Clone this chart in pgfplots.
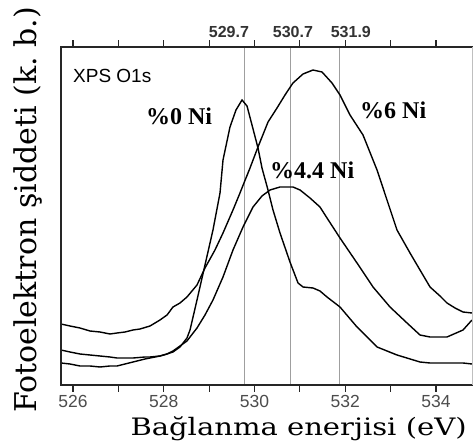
\documentclass[border=0pt]{standalone}
\usepackage{fontspec}
\usepackage{graphicx}
\usepackage{pgfplots}
\pgfplotsset{compat=1.18}
\newfontfamily\lsans{Liberation Sans}
\newfontfamily\lserif{Liberation Serif}
\newfontfamily\dserif{DejaVu Serif}
\begin{document}
\begin{tikzpicture}
\begin{axis}[
  scale only axis, width=411pt, height=338pt,
  xmin=525.736, xmax=534.793, ymin=0, ymax=338,
  clip=false,
  axis line style={draw=none},
  ytick=\empty,
  xtick={526,528,530,532,534},
  minor xtick={527,529,531,533},
  tick align=outside,
  major tick length=7pt, minor tick length=7pt,
  major tick style={line width=1.2pt, black!85},
  minor tick style={line width=1.2pt, black!85},
  xticklabel style={font=\lsans\fontsize{17.5}{17.5}\selectfont, text=black!70},
  /pgf/number format/assume math mode=true,
  /pgf/number format/1000 sep={},
  every axis x label/.style={at={(axis description cs:0.578,-0.148)}, anchor=base},
  every axis y label/.style={at={(axis description cs:-0.0584,0.518)}, rotate=90, anchor=base},
  xlabel={\scalebox{1.21}[1]{\dserif\fontsize{24}{24}\selectfont Bağlanma enerjisi (eV)}},
  ylabel={\dserif\fontsize{30}{30}\selectfont Fotoelektron şiddeti (k.\ b.)},
]
% reference lines
\addplot[gray!75, line width=1pt] coordinates {(529.77,0) (529.77,338)};
\addplot[gray!75, line width=1pt] coordinates {(530.80,0) (530.80,338)};
\addplot[gray!75, line width=1pt] coordinates {(531.88,0) (531.88,338)};
% %0 Ni
\addplot[black, line width=1.4pt] coordinates {
(525.736,22) (525.934,21) (526.154,19) (526.375,19) (526.595,18) (526.815,19) (526.970,19)
(527.146,21) (527.322,23) (527.587,26) (527.697,27) (527.917,29) (528.072,31) (528.204,33)
(528.358,38) (528.512,47) (528.579,55) (528.733,85) (528.909,120) (529.085,155) (529.240,192)
(529.306,225) (529.460,258) (529.592,275) (529.725,285) (529.835,279) (529.945,260)
(530.077,237) (530.165,217) (530.298,195) (530.408,175) (530.562,152) (530.782,123)
(530.959,102) (531.069,98) (531.289,97) (531.443,94) (531.598,88) (531.884,78)
(532.259,58) (532.700,38) (533.140,30) (533.647,23) (533.868,22) (534.242,22) (534.595,22) (534.793,21)
};
% %4.4 Ni
\addplot[black, line width=1.4pt] coordinates {
(525.736,35) (525.934,33) (526.154,31) (526.375,30) (526.595,29) (526.815,28) (526.970,27)
(527.146,27) (527.322,27) (527.587,28) (527.697,28) (527.917,29) (528.072,31) (528.204,34)
(528.358,39) (528.512,44) (528.579,48) (528.733,57) (528.909,70) (529.085,85) (529.306,108)
(529.526,135) (529.747,158) (529.967,178) (530.165,189) (530.342,195) (530.562,198)
(530.848,198) (531.003,195) (531.223,187) (531.443,178) (531.598,167) (531.884,147)
(532.259,122) (532.612,98) (532.986,78) (533.361,62) (533.647,50) (533.868,48)
(534.242,48) (534.595,55) (534.793,65)
};
% %6 Ni
\addplot[black, line width=1.4pt] coordinates {
(525.736,61) (525.934,59) (526.154,57) (526.375,54) (526.595,53) (526.815,51) (526.970,52)
(527.146,53) (527.322,55) (527.477,56) (527.697,59) (527.917,65) (528.072,70) (528.204,78)
(528.358,82) (528.512,88) (528.733,100) (528.909,117) (529.129,135) (529.306,152)
(529.526,175) (529.680,192) (529.901,217) (530.077,238) (530.298,263) (530.496,277)
(530.672,290) (530.848,302) (531.069,311) (531.289,315) (531.488,313) (531.708,302)
(531.884,290) (532.105,270) (532.391,250) (532.700,215) (532.920,185) (533.140,155)
(533.427,132) (533.647,115) (533.868,98) (534.088,89) (534.242,82) (534.419,77)
(534.595,73) (534.793,72)
};
% frame
\draw[line width=1.8pt, black!85, line cap=rect] (rel axis cs:0,0) -- (rel axis cs:0,1) -- (rel axis cs:1,1);
\draw[line width=1.8pt, black!85, line cap=rect] (rel axis cs:0,0) -- (rel axis cs:1,0);
\draw[gray!50, line width=0.8pt] (rel axis cs:1,0) -- (rel axis cs:1,1);
% labels
\node[font=\lsans\bfseries\fontsize{16}{16}\selectfont, text=black!80, anchor=base, yshift=10pt] at (axis cs:529.436,338) {529.7};
\node[font=\lsans\bfseries\fontsize{16}{16}\selectfont, text=black!80, anchor=base, yshift=10pt] at (axis cs:530.846,338) {530.7};
\node[font=\lsans\bfseries\fontsize{16}{16}\selectfont, text=black!80, anchor=base, yshift=10pt] at (axis cs:532.123,338) {531.9};
\node[font=\lsans\fontsize{19}{19}\selectfont, anchor=base west, inner sep=0pt] at (axis cs:526.0,303) {XPS O1s};
\node[font=\lserif\bfseries\fontsize{24}{24}\selectfont, anchor=base west, inner sep=0pt] at (axis cs:527.609,261) {\%0 Ni};
\node[font=\lserif\bfseries\fontsize{24}{24}\selectfont, anchor=base west, inner sep=0pt] at (axis cs:532.325,267) {\%6 Ni};
\node[font=\lserif\bfseries\fontsize{24}{24}\selectfont, anchor=base west, inner sep=0pt] at (axis cs:530.342,207) {\%4.4 Ni};
\coordinate (bl) at (rel axis cs:0,0);
\coordinate (tr) at (rel axis cs:1,1);
\end{axis}
\pgfresetboundingbox
\path ([shift={(-61pt,-63pt)}]bl) rectangle ([shift={(1pt,47pt)}]tr);
\end{tikzpicture}
\end{document}
